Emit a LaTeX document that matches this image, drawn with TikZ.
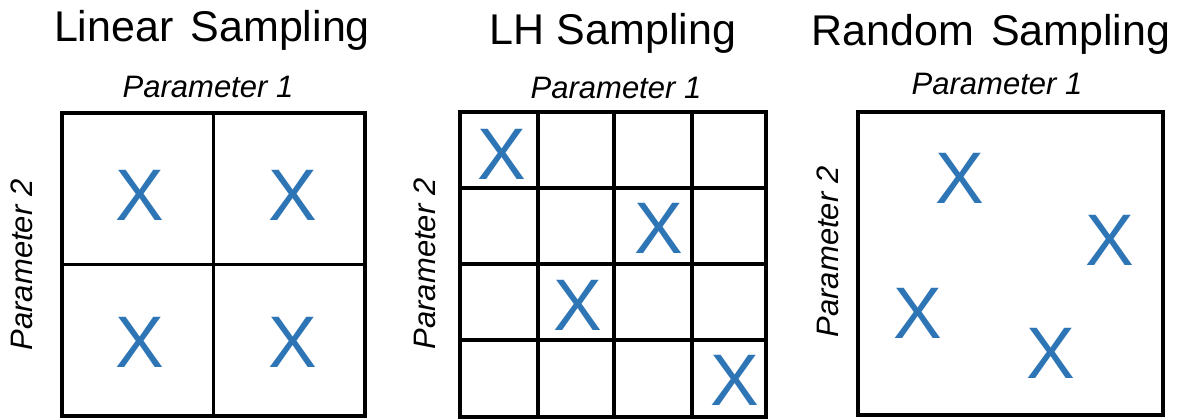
\documentclass[tikz,border=0pt]{standalone}
\usepackage{fontspec}
\setmainfont{Liberation Sans}
\definecolor{xblue}{HTML}{2E75B6}
\begin{document}
\begin{tikzpicture}[x=1pt,y=-1pt,
  title/.style={anchor=base,inner sep=0pt,font=\fontsize{43}{50}\selectfont},
  param/.style={anchor=base,inner sep=0pt,font=\fontsize{31}{36}\selectfont\itshape},
  vparam/.style={rotate=90,anchor=center,inner sep=0pt,font=\fontsize{31}{36}\selectfont\itshape},
  mark x/.style={anchor=center,inner sep=0pt,text=xblue,font=\fontsize{73}{80}\selectfont},
  panel/.style={draw=black,line width=3.5pt,inner sep=0pt,anchor=center},
  grid line/.style={draw=black,line width=3.5pt}]
\useasboundingbox (0,0) rectangle (1183,420);
% Panel 1
\node[title] (t1) at (212,42) {Linear\hspace{0.12em} Sampling};
\node[param] (p1a) at (208,97) {Parameter 1};
\node[vparam] (p1b) at (22,265) {Parameter 2};
\node[panel,minimum width=303pt,minimum height=303pt] (box1) at (213.5,264.5) {};
\draw[grid line] (box1.north) -- (box1.south);
\draw[grid line] (box1.west) -- (box1.east);
\node[mark x] (x11) at (140,195) {X};
\node[mark x] (x12) at (293,195) {X};
\node[mark x] (x13) at (140,342) {X};
\node[mark x] (x14) at (293,342) {X};
% Panel 2
\node[title] (t2) at (613,45) {LH Sampling};
\node[param] (p2a) at (616,98) {Parameter 1};
\node[vparam] (p2b) at (425,264) {Parameter 2};
\node[panel,minimum width=306pt,minimum height=305pt] (box2) at (613,264.5) {};
\foreach \gx in {538,614,692} {\draw[grid line] (\gx,112) -- (\gx,417);}
\foreach \gy in {188,264,340} {\draw[grid line] (460,\gy) -- (766,\gy);}
\node[mark x] (x21) at (502,154) {X};
\node[mark x] (x22) at (659,228) {X};
\node[mark x] (x23) at (578,305) {X};
\node[mark x] (x24) at (735,380) {X};
% Panel 3
\node[title] (t3) at (991,46) {Random\hspace{0.12em} Sampling};
\node[param] (p3a) at (997,95) {Parameter 1};
\node[vparam] (p3b) at (828,252) {Parameter 2};
\node[panel,minimum width=305pt,minimum height=303pt] (box3) at (1010.5,263.5) {};
\node[mark x] (x31) at (960,178) {X};
\node[mark x] (x32) at (1110,240) {X};
\node[mark x] (x33) at (918,313) {X};
\node[mark x] (x34) at (1051,353) {X};
\end{tikzpicture}
\end{document}
